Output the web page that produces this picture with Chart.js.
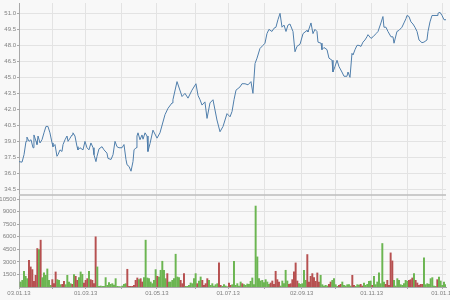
<!DOCTYPE html>
<html>
<head>
<meta charset="utf-8">
<script src="https://cdn.jsdelivr.net/npm/chart.js"></script>
<style>
  body { margin: 0; background: #f8f8f8; }
  canvas { display: block; }
</style>
</head>
<body>
<canvas id="stockChart" width="450" height="300"></canvas>
<script>
// Eixo de datas: dias desde 03.01.13
const tickDays = [0, 29, 57, 88, 118, 151, 179, 210, 242, 271, 302, 333, 363];
const tickLabels = ['03.01.13', '', '01.03.13', '', '01.05.13', '', '01.07.13', '', '02.09.13', '', '01.11.13', '', '01.01.14'];
const priceTicks = [34.5, 36.0, 37.5, 39.0, 40.5, 42.0, 43.5, 45.0, 46.5, 48.0, 49.5, 51.0];
const volumeTicks = [1500, 3000, 4500, 6000, 7500, 9000, 10500];

// Cotação (dia, preço)
const priceDays = [
  0, 2.6, 4.3, 6.0, 6.8, 8.6, 10.3, 12.0, 12.8, 14.6, 15.4, 16.3, 18.0, 19.7, 21.4, 23.1, 24.8, 26.5, 28.3, 29.1,
  30.8, 32.5, 33.4, 35.1, 36.8, 37.7, 39.4, 41.1, 42.0, 43.7, 45.4, 46.2, 47.9, 49.7, 50.5, 52.2, 54.8, 56.5, 58.2, 59.9,
  61.6, 63.4, 64.2, 65.9, 66.8, 68.5, 71.1, 72.8, 75.3, 76.2, 78.8, 80.5, 82.2, 83.9, 85.6, 88.2, 89.9, 91.6, 92.5, 94.2,
  95.9, 97.6, 98.5, 100.2, 101.0, 101.9, 103.6, 105.3, 106.2, 107.9, 109.6, 110.4, 112.2, 114.7, 118.2, 120.7, 125.0, 127.6, 131.0, 131.8,
  135.3, 139.6, 142.1, 144.7, 148.1, 151.5, 153.3, 155.0, 156.7, 159.2, 161.0, 163.5, 166.1, 169.5, 172.1, 174.7, 178.1, 180.7, 182.4, 184.1,
  185.8, 189.2, 190.9, 193.5, 196.1, 198.6, 200.3, 202.1, 203.8, 206.3, 208.9, 210.6, 212.3, 214.0, 216.6, 218.3, 220.0, 221.7, 223.5, 225.2,
  226.9, 228.6, 230.3, 232.0, 234.6, 236.3, 238.0, 240.6, 243.2, 246.6, 247.4, 250.0, 251.7, 253.4, 255.1, 256.0, 258.6, 259.4, 261.1, 263.7,
  265.4, 268.0, 268.8, 270.5, 272.3, 274.0, 276.5, 278.3, 280.8, 281.7, 283.4, 285.1, 286.0, 287.7, 289.4, 291.1, 292.8, 294.5, 296.2, 297.9,
  298.8, 301.4, 303.1, 305.7, 307.4, 309.9, 311.6, 312.5, 314.2, 315.9, 318.5, 320.2, 321.1, 323.6, 325.3, 327.9, 329.6, 331.3, 332.2, 333.9,
  335.6, 337.3, 339.0, 340.8, 342.5, 345.0, 346.7, 349.3, 350.2, 351.9, 353.6, 355.3, 357.9, 358.7, 360.4, 362.2, 363.9, 365.6
];
const prices = [
  37.1, 37.05, 37.75, 39.0, 39.4, 39.0, 39.15, 38.4, 39.6, 39.0, 38.7, 39.5, 38.85, 39.15, 39.8, 40.4, 40.4, 39.8, 38.85, 38.5,
  38.7, 37.6, 37.75, 38.2, 38.05, 38.7, 39.15, 39.5, 39.0, 39.3, 39.6, 39.8, 39.5, 38.5, 38.2, 38.4, 38.2, 39.0, 38.4, 38.2,
  38.85, 38.4, 37.75, 37.1, 37.6, 38.3, 38.5, 38.2, 37.9, 37.4, 37.3, 37.75, 39.0, 38.5, 38.4, 38.4, 38.7, 37.3, 36.8, 36.65,
  36.2, 37.1, 38.2, 38.4, 39.5, 39.8, 39.15, 39.6, 39.2, 39.8, 39.5, 38.05, 38.8, 40.05, 39.3, 39.8, 41.5, 42.1, 42.6, 42.9,
  44.6, 43.2, 43.5, 43.05, 43.8, 44.4, 43.3, 42.9, 42.4, 42.7, 41.15, 42.6, 42.9, 41.0, 39.9, 40.4, 41.6, 41.3, 41.8, 42.9,
  43.8, 44.1, 44.4, 44.4, 44.3, 44.6, 43.5, 46.3, 46.8, 47.7, 48.0, 48.2, 49.1, 49.5, 49.3, 49.6, 49.7, 50.4, 51.0, 49.7,
  49.9, 49.3, 49.9, 50.0, 49.3, 47.4, 47.9, 48.1, 49.1, 49.4, 49.25, 50.1, 49.1, 49.5, 49.3, 48.3, 48.2, 47.6, 47.8, 47.6,
  46.8, 46.6, 45.5, 46.0, 46.6, 46.0, 45.5, 45.1, 45.1, 45.5, 45.0, 47.25, 47.1, 47.6, 48.0, 48.0, 47.9, 48.3, 48.5, 48.8,
  49.0, 48.65, 48.8, 49.1, 49.3, 50.1, 50.7, 49.7, 49.7, 49.3, 48.8, 48.8, 48.2, 49.3, 49.4, 49.7, 50.1, 50.5, 50.8, 50.7,
  50.2, 50.0, 49.7, 49.3, 48.5, 48.25, 48.3, 48.5, 49.3, 50.2, 50.8, 50.8, 50.8, 51.0, 51.1, 50.8, 50.4, 50.4
];

// Volume por pregão e cor (g = alta, r = baixa)
const volumes = [
  600, 800, 1880, 1280, 1000, 3200, 2400, 2080, 680, 1400,
  4600, 4480, 5600, 1120, 1680, 1400, 2160, 800, 200, 880,
  400, 1800, 880, 800, 280, 320, 680, 280, 1400, 600,
  400, 320, 1480, 1280, 800, 1120, 1800, 1520, 480, 800,
  1000, 1880, 880, 800, 400, 6000, 2400, 80, 120, 80,
  80, 1120, 200, 520, 320, 400, 240, 1000, 80, 40,
  40, 120, 320, 400, 2120, 80, 80, 80, 200, 800,
  1080, 880, 1000, 600, 1120, 5600, 1080, 1000,
  600, 400, 800, 2080, 1280, 1200, 2000, 3080, 2000, 1000,
  1600, 600, 600, 800, 1000, 3920, 1200, 1120, 800, 400,
  1600, 80, 80, 200, 480, 400, 1000, 1600, 400, 720,
  1200, 800, 200, 400, 1000, 800, 200, 400, 120, 280,
  400, 2880, 200, 80, 280, 120, 40, 480, 200, 280,
  3080, 200, 400, 120, 600, 400, 280, 200, 360, 320,
  680, 1080, 280, 9680, 3600, 1000, 720, 800, 520, 880,
  600, 320, 480, 720, 320, 1880, 880, 600, 120, 720,
  400, 2000, 720, 320, 400, 880, 1800, 2880, 720, 400,
  320, 400, 2000, 800, 3880, 600, 1280, 1600, 1120, 680,
  1680, 600, 1400, 280, 120, 200, 120, 320, 600, 800,
  1000, 280, 80, 200, 320, 600, 200, 120, 280, 280,
  120, 1400, 200, 80, 280, 240, 320, 120, 480, 200,
  320, 680, 720, 200, 1280, 280, 600, 1680, 400, 5200,
  600, 320, 800, 200, 4080, 3120, 800, 120, 1000, 800,
  280, 200, 400, 800, 680, 800, 880, 1080, 1600, 800,
  480, 200, 320, 320, 3480, 280, 400, 320, 1000, 1120,
  120, 80, 880, 1200, 720, 200, 600, 280
];
const volumeSides = (
  'gggggrrrrr' + 'rgrggggggr' + 'rrgggrrggg' + 'grgrrgggrr' + 'rgrrrrgggg' + 'gggggggggg' + 'ggggrrrrrr' + 'rgrrgggg' +
  'ggggrggggg' + 'rgggggggrr' + 'rgggggggrg' + 'grrrrggggg' + 'grrggggrrg' + 'gggggrgggg' + 'gggggggggg' + 'ggrrrrrrgg' + 'gggrrrrrrg' +
  'ggggrrrrrr' + 'rrgggggrrg' + 'gggrrggggg' + 'grrgggrrgg' + 'gggrgggggg' + 'grrrrrgggg' + 'gggggrrrgr' + 'rrrrgggggg' + 'ggrggggg'
).split('');

const pricePoints = priceDays.map((d, i) => ({ x: d, y: prices[i] }));
const volumePoints = volumes.map((v, i) => ({ x: i, y: v }));
const volumeColors = volumeSides.map(s => s === 'g' ? '#6bb551' : '#b65050');

const tickFont = { family: 'Liberation Sans', size: 6 };
const gridStyle = { color: '#e3e3e3', tickColor: '#a8a8a8', tickLength: 2, offset: false };
const borderStyle = { color: '#a8a8a8' };

// Linha separando os dois painéis
const paneDivider = {
  id: 'paneDivider',
  afterDatasetsDraw(chart) {
    const { ctx, chartArea, scales } = chart;
    ctx.save();
    ctx.strokeStyle = '#bcbcbc';
    ctx.lineWidth = 1.5;
    ctx.beginPath();
    ctx.moveTo(chartArea.left, scales.y.bottom);
    ctx.lineTo(chartArea.right, scales.y.bottom);
    ctx.stroke();
    ctx.restore();
  }
};

function noPad(scale) {
  scale.paddingLeft = 0;
  scale.paddingRight = 0;
  scale.paddingTop = 0;
  scale.paddingBottom = 0;
}

new Chart(document.getElementById('stockChart').getContext('2d'), {
  type: 'line',
  data: {
    datasets: [
      {
        type: 'line',
        data: pricePoints,
        xAxisID: 'x',
        yAxisID: 'y',
        borderColor: '#4f7eab',
        borderWidth: 1,
        pointRadius: 0,
        tension: 0
      },
      {
        type: 'bar',
        data: volumePoints,
        xAxisID: 'xv',
        yAxisID: 'yv',
        backgroundColor: volumeColors,
        barThickness: 1.3
      }
    ]
  },
  plugins: [paneDivider],
  options: {
    responsive: false,
    animation: false,
    layout: { padding: { top: 3, right: 4, left: 0, bottom: 0 } },
    plugins: { legend: { display: false }, tooltip: { enabled: false } },
    scales: {
      x: {
        type: 'linear',
        offset: false,
        min: 0,
        max: 365.6,
        afterBuildTicks: s => { s.ticks = tickDays.map(v => ({ value: v })); },
        afterFit: s => { s.height = 13; noPad(s); },
        ticks: {
          autoSkip: false,
          maxRotation: 0,
          padding: 1,
          font: tickFont,
          color: '#808080',
          callback: (v, i) => tickLabels[i]
        },
        grid: gridStyle,
        border: borderStyle
      },
      xv: { type: 'linear', display: false, offset: false, min: -0.6, max: 255.6 },
      yv: {
        position: 'left',
        stack: 'panes',
        stackWeight: 92,
        min: 0,
        max: 11000,
        afterBuildTicks: s => { s.ticks = volumeTicks.map(v => ({ value: v })); },
        afterFit: s => { s.width = 19; noPad(s); },
        ticks: { autoSkip: false, padding: 1, font: tickFont, color: '#808080', callback: v => String(v) },
        grid: gridStyle,
        border: borderStyle
      },
      y: {
        position: 'left',
        stack: 'panes',
        stackWeight: 192,
        min: 33.97,
        max: 51.97,
        afterBuildTicks: s => { s.ticks = priceTicks.map(v => ({ value: v })); },
        afterFit: s => { s.width = 19; noPad(s); },
        ticks: { autoSkip: false, padding: 1, font: tickFont, color: '#808080', callback: v => v.toFixed(1) },
        grid: gridStyle,
        border: borderStyle
      }
    }
  }
});
</script>
</body>
</html>
